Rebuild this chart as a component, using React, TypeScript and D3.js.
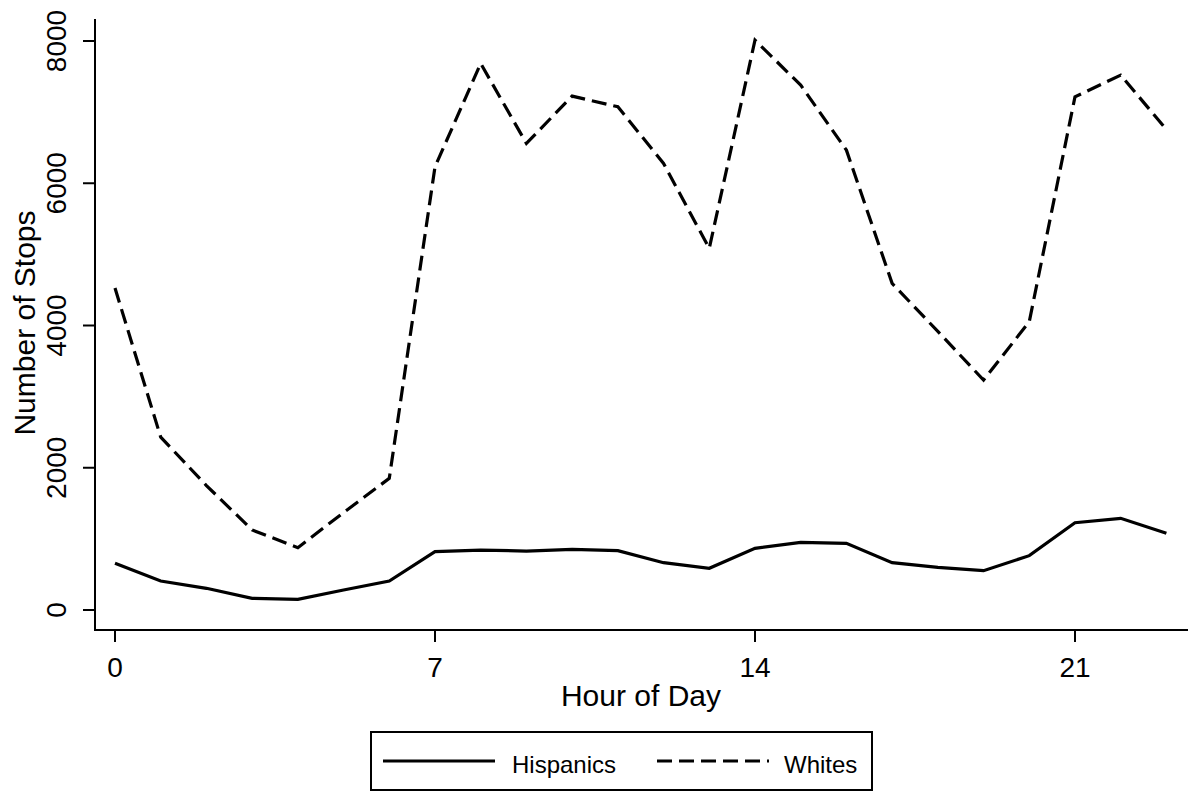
import React from "react";
import * as d3 from "d3";

const hours = d3.range(0, 24);
const hispanics = [656, 408, 305, 164, 150, 281, 408, 820, 843, 829, 853, 834, 665, 586, 867, 951, 937, 665, 600, 553, 764, 1227, 1289, 1078];
const whites = [4526, 2430, 1750, 1125, 876, 1370, 1851, 6231, 7684, 6560, 7225, 7075, 6279, 5084, 8012, 7380, 6466, 4592, 3917, 3233, 4053, 7215, 7520, 6757];
const xTicks = [0, 7, 14, 21];
const yTicks = [0, 2000, 4000, 6000, 8000];
const seriesNames = ["Hispanics", "Whites"];

const W = 1191;
const H = 793;
const FONT = "'Liberation Sans', Arial, sans-serif";

export default function App() {
  const x = d3.scaleLinear().domain([0, 23]).range([115, 1166.4]);
  const y = d3.scaleLinear().domain([0, 8000]).range([610, 41]);
  const axisLeft = 95;
  const axisBottom = 630;
  const axisTop = 19;
  const axisRight = 1188;

  const line = d3
    .line<number>()
    .x((_, i) => x(hours[i]))
    .y((d) => y(d));

  return (
    <svg
      width={W}
      height={H}
      style={{ position: "absolute", left: 0, top: 0, background: "#fff" }}
      fontFamily={FONT}
    >
      <rect x={0} y={0} width={W} height={H} fill="#fff" />
      {/* axes */}
      <line x1={axisLeft} x2={axisLeft} y1={axisTop} y2={axisBottom + 1} stroke="#000" strokeWidth={2} />
      <line x1={axisLeft - 1} x2={axisRight} y1={axisBottom} y2={axisBottom} stroke="#000" strokeWidth={2} />
      {yTicks.map((t) => (
        <g key={"y" + t}>
          <line x1={axisLeft - 12} x2={axisLeft} y1={y(t)} y2={y(t)} stroke="#000" strokeWidth={2} />
          <text
            transform={`translate(66,${y(t)}) rotate(-90)`}
            textAnchor="middle"
            fontSize={28}
            fill="#000"
          >
            {t}
          </text>
        </g>
      ))}
      {xTicks.map((t) => (
        <g key={"x" + t}>
          <line x1={x(t)} x2={x(t)} y1={axisBottom} y2={axisBottom + 12} stroke="#000" strokeWidth={2} />
          <text x={x(t)} y={677} textAnchor="middle" fontSize={28} fill="#000">
            {t}
          </text>
        </g>
      ))}
      <text x={641} y={706} textAnchor="middle" fontSize={30} fill="#000">
        Hour of Day
      </text>
      <text transform={`translate(35,323) rotate(-90)`} textAnchor="middle" fontSize={30} fill="#000">
        Number of Stops
      </text>

      {/* series */}
      <path d={line(whites) || ""} fill="none" stroke="#000" strokeWidth={3.2} strokeDasharray="15 7" />
      <path d={line(hispanics) || ""} fill="none" stroke="#000" strokeWidth={3.2} />

      {/* legend */}
      <rect x={371} y={732} width={501} height={58} fill="#fff" stroke="#000" strokeWidth={2} />
      <line x1={383} x2={495} y1={761} y2={761} stroke="#000" strokeWidth={3.2} />
      <text x={512} y={773} fontSize={24} fill="#000">
        {seriesNames[0]}
      </text>
      <line x1={657} x2={769} y1={761} y2={761} stroke="#000" strokeWidth={3.2} strokeDasharray="15 7" />
      <text x={784} y={773} fontSize={24} fill="#000">
        {seriesNames[1]}
      </text>
    </svg>
  );
}
